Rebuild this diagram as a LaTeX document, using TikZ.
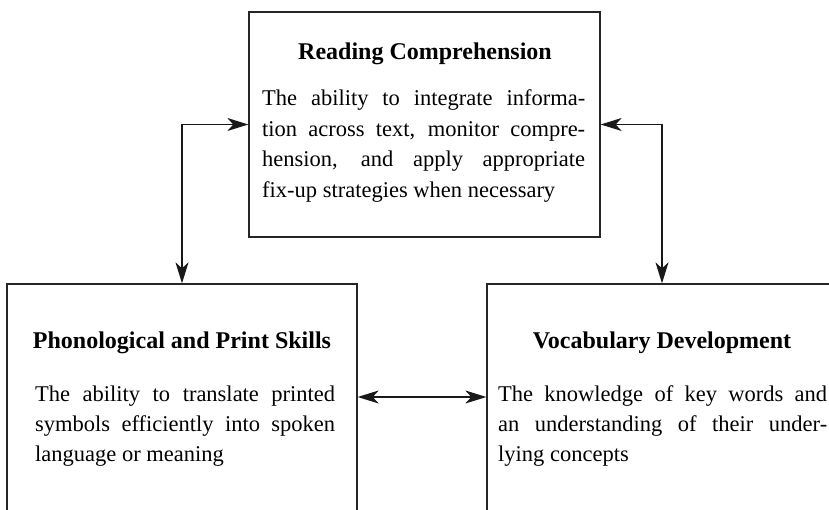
\documentclass[tikz,border=0pt]{standalone}
\usepackage{fontspec}
\setmainfont{Liberation Serif}
\usetikzlibrary{arrows.meta}
\begin{document}
\begin{tikzpicture}[x=1pt,y=-1pt,
  box/.style={draw=black!85, line width=1.3pt, inner sep=0pt, rectangle},
  ttl/.style={font=\fontsize{24}{28}\selectfont\bfseries, anchor=base, inner sep=0pt},
  body/.style={font=\fontsize{22.5}{30.4}\selectfont, anchor=base west, inner sep=0pt, align=justify},
  arr/.style={line width=1.3pt, draw=black!90, {Stealth[length=21pt,width=13pt,inset=6pt]}-{Stealth[length=21pt,width=13pt,inset=6pt]}}
]
\useasboundingbox (0,0) rectangle (829,510);
\node[box, minimum width=351pt, minimum height=225pt] (rc) at (424.5,124.5) {};
\node[box, minimum width=350pt, minimum height=300pt] (ps) at (182,434) {};
\node[box, minimum width=350pt, minimum height=300pt] (vd) at (662,434) {};
\coordinate (mid) at (0,397);

\node[ttl] (rct) at (425,60) {Reading Comprehension};
\node[body, text width=323pt] (rcb) at (262,106) {\hyphenpenalty=10000 The ability to integrate informa-\linebreak tion across text, monitor compre-\linebreak hension, and apply appropriate\linebreak fix-up strategies when necessary};

\node[ttl] (pst) at (182,348) {Phonological and Print Skills};
\node[body, text width=300pt] (psb) at (35,401) {\hyphenpenalty=10000 The ability to translate printed\linebreak symbols efficiently into spoken\linebreak language or meaning};

\node[ttl] (vdt) at (662,348) {Vocabulary Development};
\node[body, text width=329pt] (vdb) at (498,401) {\hyphenpenalty=10000 The knowledge of key words and\linebreak an understanding of their under-\linebreak lying concepts};

\draw[arr] (rc.west) -| (ps.north);
\draw[arr] (rc.east) -| (vd.north);
\draw[arr] (ps.east |- mid) -- (vd.west |- mid);
\end{tikzpicture}
\end{document}
